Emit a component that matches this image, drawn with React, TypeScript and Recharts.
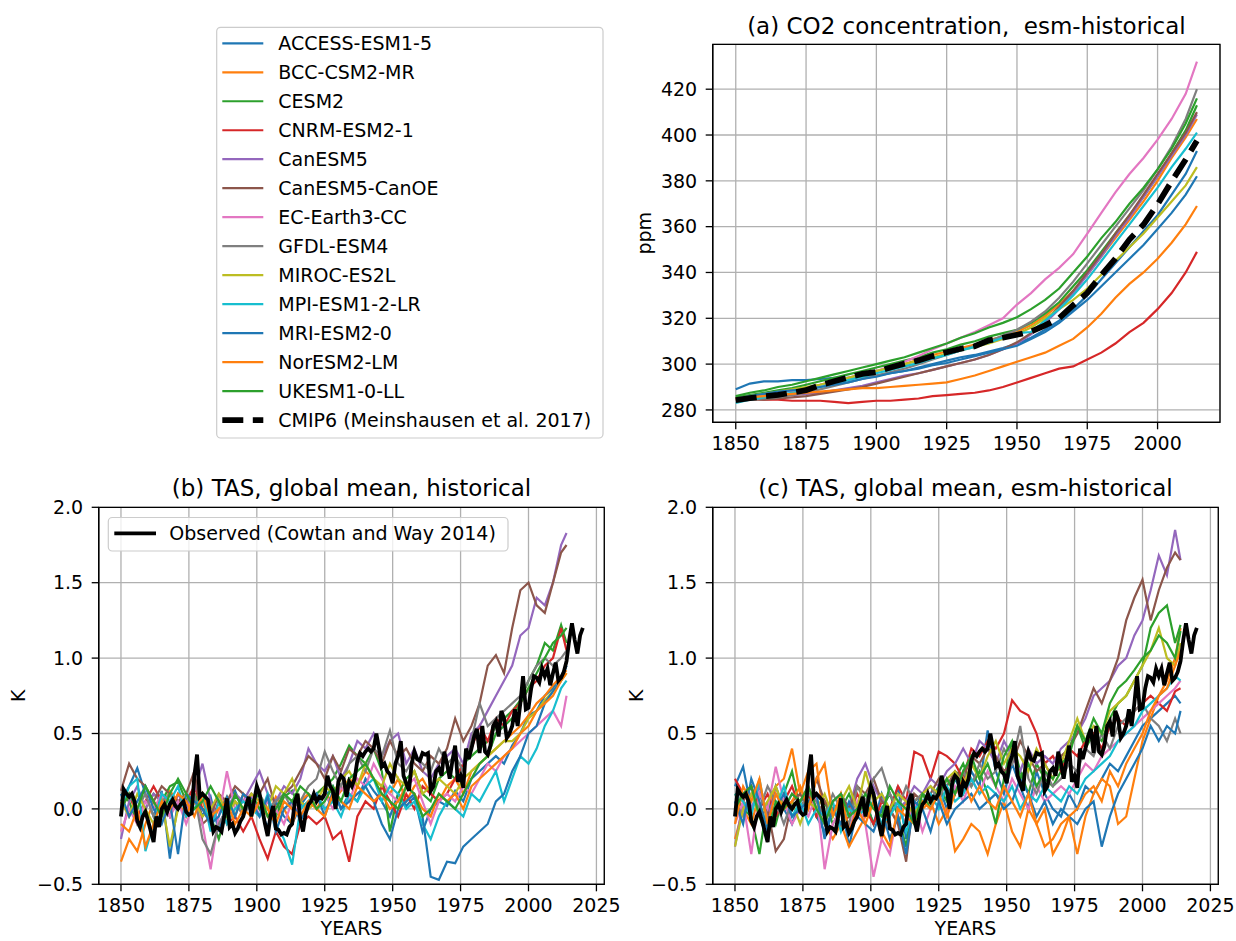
import React from 'react';
import { LineChart, Line, XAxis, YAxis, CartesianGrid, ReferenceArea } from 'recharts';

// ---------- categories ----------
const MODEL_NAMES = [
  'ACCESS-ESM1-5', 'BCC-CSM2-MR', 'CESM2', 'CNRM-ESM2-1', 'CanESM5', 'CanESM5-CanOE',
  'EC-Earth3-CC', 'GFDL-ESM4', 'MIROC-ES2L', 'MPI-ESM1-2-LR', 'MRI-ESM2-0', 'NorESM2-LM', 'UKESM1-0-LL',
];
const MODEL_COLORS = [
  '#1f77b4', '#ff7f0e', '#2ca02c', '#d62728', '#9467bd', '#8c564b',
  '#e377c2', '#7f7f7f', '#bcbd22', '#17becf', '#1f77b4', '#ff7f0e', '#2ca02c',
];
const CMIP6_LABEL = 'CMIP6 (Meinshausen et al. 2017)';
const OBS_LABEL = 'Observed (Cowtan and Way 2014)';

// ---------- (a) CO2 concentration, ppm ----------
const CO2_YEARS = [1850, 1855, 1860, 1865, 1870, 1875, 1880, 1885, 1890, 1895,
  1900, 1905, 1910, 1915, 1920, 1925, 1930, 1935, 1940, 1945,
  1950, 1955, 1960, 1965, 1970, 1975, 1980, 1985, 1990, 1995,
  2000, 2005, 2010, 2014];
const CO2_CMIP6 = [284.3, 285.1, 285.9, 286.6, 287.5, 288.6, 290.8, 292.5, 294.2, 295.7,
  296.6, 298.5, 300.2, 301.6, 303.5, 305.2, 306.7, 307.8, 310.4, 311.5,
  312.8, 314.2, 316.9, 320.0, 325.7, 331.1, 338.8, 346.0, 354.4, 360.9,
  369.7, 379.8, 389.3, 397.5];
const CO2_ACCESS = [289, 291.5, 292.5, 292.5, 293, 293, 293.5, 294, 294, 294.5,
  295, 296, 297, 298.5, 300, 301.5, 303, 304, 305.5, 307,
  309, 311.5, 315, 319, 324, 330, 337, 344, 351, 358,
  365, 374, 383, 393];
const CO2_BCC = [284.5, 285.5, 286.5, 287.5, 288.5, 289.5, 291, 292.5, 294, 295.5,
  297, 298.5, 300, 302, 304, 305.5, 307, 308.5, 310.5, 312,
  314, 317, 321, 326, 332, 339, 347, 355, 363, 371,
  380, 390, 399, 407];
const CO2_CESM2 = [285.5, 286.5, 287.5, 288.5, 289.5, 291, 292.5, 294, 295.5, 297,
  298.5, 300, 301.5, 303, 305, 306.5, 308.5, 310, 312, 313.5,
  315, 318, 322, 327, 334, 341, 349, 357, 365, 373,
  382, 392, 402, 413];
const CO2_CNRM = [285, 285, 284.5, 284.5, 284, 284, 284, 283.5, 283, 283.5,
  284, 284, 284.5, 285, 286, 286.5, 287, 287.5, 288.5, 290,
  292, 294, 296, 298, 299, 302, 305, 309, 314, 318,
  324, 331, 340, 349];
const CO2_CANESM5 = [285, 285, 285.5, 286, 286.5, 287, 287.5, 288.5, 289.5, 290.5,
  292, 293.5, 295, 296, 297.5, 299, 300.5, 302, 304, 306.5,
  309, 313, 318, 324, 331, 339, 347, 356, 364, 373,
  382, 391, 400, 409];
const CO2_CANOE = [285, 284.5, 284.5, 285, 285.5, 286, 287, 288, 289, 290,
  291.5, 293, 294.5, 296, 297.5, 299, 300.5, 302, 304, 306.5,
  309.5, 313.5, 319, 325, 332, 340, 348, 357, 365, 374,
  383, 392, 401, 410];
const CO2_ECEARTH = [284.5, 285.5, 286.5, 287.5, 288.5, 289.5, 291, 292.5, 294, 295.5,
  297, 299, 301, 303.5, 306.5, 309, 311.5, 314, 317, 320,
  326, 331, 337, 342, 348, 357, 366, 375, 383, 390,
  398, 407, 418, 432];
const CO2_GFDL = [284, 284.5, 285, 285.5, 286.5, 287.5, 289, 290.5, 292, 293.5,
  295, 296.5, 298, 300, 302, 304, 306, 308, 310, 312.5,
  315, 318.5, 323, 329, 336, 344, 352, 360, 368, 376,
  385, 395, 407, 420];
const CO2_MIROC = [285, 286, 287, 288, 289, 290, 291, 292.5, 294, 295.5,
  297, 298.5, 300, 301.5, 303, 304.5, 306, 307.5, 309, 311,
  313, 316, 320, 324, 328, 333, 339, 345, 351, 357,
  364, 371, 378, 386];
const CO2_MPI = [283, 284.5, 285.5, 286.5, 287.5, 288.5, 290, 291.5, 293, 294.5,
  296, 297.5, 299, 300.5, 302.5, 304, 306, 307.5, 309.5, 311.5,
  313.5, 314, 319, 324, 330, 337, 345, 353, 361, 369,
  377, 386, 394, 401];
const CO2_MRI = [285, 286, 287, 288, 288.5, 289, 290, 291, 292, 293.5,
  294.5, 296, 297, 298, 299.5, 300.5, 302, 303.5, 305, 306.5,
  308, 311, 314, 318, 323, 328, 334, 340, 346, 352,
  359, 366, 374, 382];
const CO2_NORESM = [285, 285.5, 286, 286.5, 287, 287.5, 288, 288.5, 289, 289.5,
  289.5, 290, 290.5, 291, 291.5, 292, 293.5, 295, 297, 299,
  301, 303, 305, 308, 311, 316, 322, 329, 335, 340,
  346, 353, 361, 369];
const CO2_UKESM = [286, 287.5, 288.5, 290, 291, 292.5, 294, 295.5, 297, 298.5,
  300, 301.5, 303, 305, 307, 309, 311.5, 313.5, 316, 318,
  320.5, 324, 328, 333, 340, 347, 355, 362, 370, 377,
  385, 394, 405, 416];

// ---------- (b), (c) global mean TAS anomaly, K ----------
const TAS_YEARS = [1850, 1853, 1856, 1859, 1862, 1865, 1868, 1871,
  1874, 1877, 1880, 1883, 1886, 1889, 1892, 1895,
  1898, 1901, 1904, 1907, 1910, 1913, 1916, 1919,
  1922, 1925, 1928, 1931, 1934, 1937, 1940, 1943,
  1946, 1949, 1952, 1955, 1958, 1961, 1964, 1967,
  1970, 1973, 1976, 1979, 1982, 1985, 1988, 1991,
  1994, 1997, 2000, 2003, 2006, 2009, 2012, 2014];

// historical
const HIST_ACCESS = [0.05, 0.15, 0.27, 0.10, -0.05, 0.12, -0.33, 0.05,
  0.02, 0.10, -0.05, 0.08, -0.15, 0.05, 0.12, -0.02,
  0.08, 0.00, -0.12, 0.05, -0.05, -0.10, 0.02, 0.10,
  0.05, 0.08, 0.15, 0.00, 0.10, 0.05, 0.20, 0.12,
  0.05, -0.05, 0.10, 0.02, 0.08, -0.15, 0.00, 0.05,
  0.02, 0.12, 0.05, 0.20, 0.25, 0.30, 0.35, 0.30,
  0.42, 0.50, 0.62, 0.65, 0.75, 0.80, 0.88, 0.95];
const HIST_BCC = [-0.35, -0.20, -0.28, -0.10, 0.05, 0.00, 0.12, 0.05,
  -0.05, 0.10, 0.05, -0.10, 0.00, 0.08, -0.05, 0.10,
  0.00, 0.05, -0.05, 0.08, 0.00, -0.10, 0.05, 0.10,
  0.00, 0.10, 0.05, 0.12, 0.20, 0.15, 0.25, 0.20,
  0.15, 0.10, 0.20, 0.05, 0.15, 0.20, 0.10, 0.05,
  0.15, 0.20, 0.10, 0.25, 0.30, 0.35, 0.40, 0.45,
  0.50, 0.55, 0.62, 0.70, 0.75, 0.82, 0.88, 0.92];
const HIST_CESM2 = [0.10, 0.05, -0.10, 0.00, 0.10, 0.05, 0.15, 0.18,
  0.05, 0.10, 0.00, -0.05, -0.20, 0.00, 0.08, 0.05,
  0.10, 0.00, 0.05, -0.05, 0.08, 0.12, 0.00, 0.05,
  0.10, 0.15, 0.20, 0.30, 0.42, 0.35, 0.30, 0.40,
  0.25, -0.15, 0.10, 0.20, 0.25, 0.10, 0.05, 0.20,
  0.25, 0.20, 0.30, 0.35, 0.40, 0.45, 0.55, 0.60,
  0.65, 0.72, 0.85, 0.95, 1.10, 1.05, 1.22, 1.10];
const HIST_CNRM = [0.00, 0.10, -0.05, 0.05, 0.15, 0.05, -0.05, 0.10,
  0.05, 0.15, 0.00, -0.10, 0.05, -0.10, -0.05, -0.15,
  -0.05, -0.20, -0.33, -0.15, -0.25, -0.30, -0.10, -0.05,
  -0.10, -0.05, -0.20, -0.15, -0.35, -0.05, 0.05, 0.00,
  0.15, 0.05, -0.05, 0.10, 0.00, 0.15, 0.10, 0.05,
  0.10, 0.20, 0.30, 0.40, 0.55, 0.45, 0.60, 0.55,
  0.65, 0.70, 0.80, 0.85, 0.95, 1.00, 1.20, 1.05];
const HIST_CANESM5 = [-0.20, 0.05, 0.15, 0.00, 0.10, 0.05, -0.05, 0.10,
  0.00, 0.12, 0.30, 0.05, -0.10, 0.00, 0.10, 0.05,
  0.15, 0.25, 0.10, 0.05, 0.15, 0.10, 0.20, 0.40,
  0.30, 0.25, 0.35, 0.20, 0.30, 0.45, 0.40, 0.50,
  0.35, 0.45, 0.50, 0.30, 0.40, 0.25, 0.20, 0.30,
  0.35, 0.40, 0.30, 0.50, 0.55, 0.65, 0.75, 0.85,
  0.95, 1.15, 1.20, 1.40, 1.35, 1.50, 1.75, 1.83];
const HIST_CANOE = [0.12, 0.30, 0.20, 0.15, 0.05, 0.15, 0.10, 0.05,
  0.10, 0.25, -0.10, -0.05, 0.10, 0.05, 0.15, 0.10,
  0.05, 0.10, 0.20, 0.00, 0.10, 0.15, 0.25, 0.35,
  0.30, 0.20, 0.35, 0.25, 0.40, 0.35, 0.45, 0.40,
  0.30, 0.45, 0.35, 0.40, 0.30, 0.25, 0.35, 0.30,
  0.40, 0.60, 0.45, 0.55, 0.70, 0.95, 1.02, 0.90,
  1.20, 1.45, 1.50, 1.35, 1.30, 1.50, 1.70, 1.75];
const HIST_ECEARTH = [-0.15, 0.00, -0.10, 0.05, 0.00, 0.10, -0.05, 0.05,
  -0.10, 0.05, -0.10, -0.40, -0.05, 0.25, 0.00, 0.05,
  0.10, -0.05, 0.05, 0.00, -0.10, 0.05, -0.05, 0.00,
  0.05, 0.10, 0.00, 0.15, 0.05, 0.20, 0.15, 0.30,
  0.20, 0.10, 0.05, 0.15, 0.20, 0.05, -0.10, 0.05,
  0.10, 0.05, 0.15, 0.10, 0.20, 0.30, 0.25, 0.35,
  0.40, 0.45, 0.50, 0.55, 0.60, 0.65, 0.55, 0.75];
const HIST_GFDL = [0.05, 0.10, 0.00, 0.10, -0.05, 0.05, 0.10, 0.00,
  0.05, 0.10, -0.20, -0.30, -0.10, 0.00, 0.05, -0.05,
  0.05, 0.10, 0.00, 0.05, 0.10, 0.00, 0.05, 0.15,
  0.20, 0.38, 0.25, 0.15, 0.30, 0.35, 0.25, 0.40,
  0.35, 0.52, 0.30, 0.25, 0.35, 0.30, 0.25, 0.40,
  0.30, 0.35, 0.25, 0.45, 0.70, 0.55, 0.60, 0.65,
  0.70, 0.75, 0.85, 0.95, 1.00, 0.95, 1.00, 1.05];
const HIST_MIROC = [0.05, -0.05, 0.10, 0.00, -0.10, 0.05, -0.25, 0.00,
  0.10, 0.05, -0.05, 0.00, 0.10, -0.05, 0.05, 0.00,
  0.10, 0.05, 0.00, 0.15, 0.10, 0.20, 0.05, 0.00,
  0.05, 0.15, 0.10, 0.20, 0.25, 0.15, 0.30, 0.20,
  0.15, 0.30, 0.20, 0.15, 0.25, 0.10, 0.15, 0.20,
  0.15, 0.10, 0.20, 0.25, 0.30, 0.35, 0.40, 0.45,
  0.45, 0.50, 0.60, 0.65, 0.72, 0.78, 0.85, 0.90];
const HIST_MPI = [0.00, 0.15, 0.20, -0.28, -0.10, 0.10, 0.05, 0.15,
  -0.05, 0.00, 0.10, -0.15, 0.05, -0.10, 0.00, 0.05,
  0.00, -0.05, 0.10, -0.10, -0.20, -0.37, 0.00, 0.05,
  0.10, 0.00, 0.05, -0.05, 0.10, 0.05, 0.15, 0.20,
  0.05, 0.15, 0.10, 0.00, 0.05, -0.10, -0.20, -0.05,
  0.05, 0.00, -0.05, 0.10, 0.05, 0.15, 0.25, 0.05,
  0.20, 0.35, 0.30, 0.40, 0.55, 0.65, 0.80, 0.85];
const HIST_MRI = [0.10, -0.05, 0.05, 0.15, 0.00, -0.10, 0.05, -0.30,
  0.10, 0.05, 0.00, -0.10, -0.05, 0.08, -0.05, 0.10,
  0.05, -0.05, 0.08, -0.15, 0.00, 0.05, -0.08, 0.02,
  0.10, -0.05, 0.12, 0.00, 0.05, 0.10, 0.15, 0.05,
  -0.10, -0.20, 0.00, 0.05, 0.10, -0.05, -0.45, -0.47,
  -0.35, -0.36, -0.25, -0.20, -0.15, -0.10, 0.05, 0.10,
  0.25, 0.35, 0.50, 0.55, 0.70, 0.78, 0.85, 0.95];
const HIST_NORESM = [-0.10, -0.15, 0.00, -0.25, -0.10, 0.05, 0.00, 0.10,
  0.05, -0.05, 0.10, -0.05, 0.00, 0.05, -0.10, 0.00,
  -0.05, 0.05, 0.00, -0.10, 0.05, 0.00, -0.05, 0.05,
  0.00, -0.05, 0.10, 0.05, 0.00, 0.15, 0.10, 0.05,
  0.10, 0.00, 0.05, 0.15, 0.10, 0.00, -0.05, 0.10,
  0.05, 0.10, 0.00, 0.15, 0.20, 0.25, 0.30, 0.35,
  0.40, 0.50, 0.55, 0.65, 0.70, 0.75, 0.85, 0.90];
const HIST_UKESM = [0.00, 0.10, 0.00, 0.15, 0.05, -0.05, 0.10, 0.20,
  0.10, 0.00, 0.05, 0.15, 0.05, -0.05, 0.10, 0.00,
  0.05, 0.10, -0.05, 0.00, 0.10, 0.05, 0.15, 0.10,
  0.00, 0.05, 0.15, 0.05, 0.20, 0.25, 0.30, 0.20,
  0.10, 0.05, 0.00, 0.15, 0.10, -0.05, 0.00, 0.10,
  0.05, 0.00, 0.10, 0.20, 0.30, 0.35, 0.50, 0.55,
  0.60, 0.70, 0.80, 0.90, 1.00, 1.10, 1.15, 1.20];

// esm-historical
const ESM_ACCESS = [0.15, 0.28, 0.00, 0.10, -0.05, 0.15, 0.00, -0.10,
  0.05, 0.10, -0.05, -0.15, 0.00, 0.05, -0.25, 0.00,
  0.05, -0.10, 0.10, -0.05, 0.15, -0.20, 0.00, 0.10,
  0.05, 0.15, 0.00, 0.20, 0.10, 0.25, 0.15, 0.52,
  0.25, 0.10, 0.30, 0.15, 0.00, 0.25, 0.10, 0.00,
  -0.05, 0.10, 0.00, 0.15, 0.10, 0.20, 0.30, 0.25,
  0.35, 0.45, 0.55, 0.60, 0.65, 0.70, 0.75, 0.70];
const ESM_BCC = [-0.20, 0.00, -0.10, 0.10, 0.00, 0.15, 0.20, 0.40,
  0.10, 0.25, 0.30, -0.10, -0.20, -0.10, -0.25, -0.15,
  -0.05, 0.05, -0.20, 0.00, -0.10, 0.05, -0.05, 0.00,
  0.05, -0.10, 0.00, -0.28, -0.20, -0.10, -0.15, -0.30,
  -0.10, 0.05, -0.15, -0.25, 0.00, -0.10, -0.25, -0.20,
  -0.10, -0.05, -0.30, -0.05, 0.10, 0.20, 0.15, -0.10,
  -0.05, 0.20, 0.45, 0.60, 0.75, 0.85, 1.00, 1.20];
const ESM_CESM2 = [0.10, 0.00, -0.05, -0.30, 0.05, -0.10, 0.10, 0.25,
  0.00, 0.10, -0.05, 0.05, -0.10, 0.00, 0.10, -0.05,
  0.05, -0.10, 0.00, 0.10, -0.05, -0.25, 0.05, 0.10,
  0.00, 0.15, 0.05, 0.20, 0.30, 0.15, 0.25, 0.10,
  -0.10, 0.20, 0.45, 0.25, 0.10, 0.30, 0.20, 0.15,
  0.25, 0.40, 0.55, 0.40, 0.50, 0.45, 0.60, 0.70,
  0.75, 0.85, 0.95, 1.20, 1.30, 1.35, 1.10, 1.22];
const ESM_CNRM = [0.20, 0.10, 0.15, 0.00, 0.10, -0.05, 0.05, 0.15,
  0.00, 0.10, -0.05, 0.05, 0.00, -0.10, -0.05, 0.10,
  0.00, -0.10, 0.05, 0.00, 0.15, 0.05, 0.38, 0.35,
  0.20, 0.38, 0.35, 0.30, 0.20, 0.40, 0.35, 0.45,
  0.40, 0.50, 0.72, 0.65, 0.62, 0.50, 0.30, 0.35,
  0.25, 0.40, 0.35, 0.45, 0.50, 0.40, 0.55, 0.60,
  0.55, 0.65, 0.70, 0.75, 0.70, 0.65, 0.78, 0.80];
const ESM_CANESM5 = [-0.25, 0.05, 0.00, 0.15, -0.05, 0.10, 0.00, 0.10,
  0.05, 0.15, 0.00, -0.10, 0.05, 0.10, 0.00, 0.20,
  0.30, 0.15, 0.05, 0.10, 0.00, 0.05, 0.15, 0.10,
  0.20, 0.15, 0.25, 0.30, 0.40, 0.30, 0.45, 0.40,
  0.30, 0.45, 0.35, 0.25, 0.40, 0.30, 0.35, 0.30,
  0.40, 0.45, 0.50, 0.60, 0.75, 0.80, 0.85, 0.95,
  1.00, 1.15, 1.25, 1.45, 1.68, 1.55, 1.85, 1.65];
const ESM_CANOE = [0.10, 0.05, 0.15, -0.05, 0.00, -0.28, -0.20, 0.05,
  0.10, 0.00, 0.20, 0.05, -0.05, 0.10, 0.00, 0.15,
  0.10, 0.20, 0.05, 0.00, -0.10, -0.35, 0.10, 0.05,
  0.10, 0.20, 0.15, 0.25, 0.20, 0.35, 0.30, 0.40,
  0.35, 0.25, 0.30, 0.45, 0.35, 0.25, 0.30, 0.20,
  0.35, 0.40, 0.50, 0.65, 0.80, 0.70, 0.85, 1.00,
  1.25, 1.40, 1.52, 1.25, 1.45, 1.60, 1.70, 1.65];
const ESM_ECEARTH = [-0.10, 0.05, -0.30, 0.10, 0.00, 0.28, 0.05, -0.10,
  0.00, -0.05, 0.10, -0.40, -0.10, 0.00, -0.15, 0.05,
  -0.10, -0.45, -0.20, -0.30, 0.00, -0.10, 0.05, -0.15,
  0.00, 0.10, -0.05, 0.15, 0.05, 0.20, 0.10, 0.25,
  0.15, 0.05, 0.20, 0.10, 0.00, 0.15, 0.05, 0.10,
  0.15, 0.10, 0.20, 0.30, 0.25, 0.35, 0.40, 0.45,
  0.50, 0.55, 0.60, 0.65, 0.70, 0.75, 0.80, 0.85];
const ESM_GFDL = [0.05, -0.05, 0.10, 0.00, 0.15, 0.05, -0.10, 0.05,
  0.00, 0.10, 0.05, -0.05, 0.10, 0.00, -0.10, 0.15,
  0.05, 0.20, 0.27, 0.10, 0.00, 0.15, 0.05, 0.10,
  0.15, 0.05, 0.20, 0.10, 0.25, 0.15, 0.30, 0.20,
  0.25, 0.40, 0.30, 0.55, 0.20, 0.10, 0.25, 0.15,
  0.20, 0.30, 0.25, 0.40, 0.35, 0.50, 0.40, 0.55,
  0.60, 0.65, 0.70, 0.60, 0.55, 0.45, 0.60, 0.50];
const ESM_MIROC = [-0.25, 0.00, 0.10, -0.05, 0.05, 0.15, 0.00, 0.05,
  -0.10, 0.05, 0.00, 0.10, -0.05, 0.05, 0.15, 0.00,
  0.25, 0.05, 0.10, 0.00, 0.10, 0.05, -0.05, 0.10,
  0.15, 0.10, 0.20, 0.25, 0.15, 0.30, 0.20, 0.35,
  0.45, 0.30, 0.40, 0.35, 0.25, 0.40, 0.30, 0.20,
  0.30, 0.45, 0.60, 0.45, 0.55, 0.50, 0.65, 0.70,
  0.75, 0.85, 0.95, 1.05, 1.20, 1.00, 0.95, 1.10];
const ESM_MPI = [0.10, 0.05, -0.05, 0.20, -0.10, 0.00, 0.15, -0.05,
  0.05, -0.10, 0.00, -0.05, 0.05, -0.15, 0.00, -0.05,
  0.00, 0.05, -0.10, -0.05, 0.05, -0.15, 0.00, 0.05,
  0.10, 0.00, 0.15, 0.05, 0.10, 0.20, 0.10, 0.15,
  0.10, 0.05, 0.15, 0.00, 0.10, 0.05, 0.15, 0.10,
  0.05, 0.15, 0.10, 0.20, 0.25, 0.30, 0.35, 0.45,
  0.50, 0.55, 0.65, 0.70, 0.75, 0.80, 0.88, 0.85];
const ESM_MRI = [0.05, -0.10, 0.20, 0.05, -0.15, 0.00, 0.10, -0.05,
  0.00, 0.05, 0.10, -0.20, 0.00, -0.10, 0.05, -0.05,
  -0.10, -0.15, 0.00, -0.20, -0.05, -0.30, 0.05, 0.00,
  -0.15, 0.05, -0.10, 0.00, 0.05, 0.10, 0.00, 0.05,
  0.10, 0.00, 0.05, 0.20, 0.10, -0.05, 0.05, -0.10,
  0.00, -0.05, -0.10, 0.00, 0.05, -0.25, -0.05, 0.10,
  0.20, 0.30, 0.40, 0.55, 0.45, 0.55, 0.50, 0.65];
const ESM_NORESM = [-0.10, 0.15, 0.05, 0.20, -0.10, 0.10, 0.00, 0.05,
  0.15, 0.00, 0.20, 0.30, -0.05, 0.10, -0.15, 0.00,
  -0.10, 0.05, -0.15, -0.25, 0.00, -0.05, -0.10, 0.05,
  0.00, 0.10, -0.05, 0.10, 0.20, 0.05, 0.15, 0.05,
  0.00, 0.15, 0.05, -0.05, 0.10, -0.10, 0.00, -0.30,
  -0.20, -0.05, 0.00, 0.10, 0.15, 0.05, 0.25, 0.15,
  0.30, 0.40, 0.50, 0.65, 0.75, 0.80, 0.95, 1.05];
const ESM_UKESM = [0.00, 0.10, 0.15, -0.05, -0.20, 0.05, 0.00, 0.10,
  0.05, 0.15, 0.00, -0.10, 0.05, 0.10, -0.05, 0.00,
  0.10, 0.00, -0.05, 0.15, 0.05, 0.00, -0.10, 0.10,
  0.05, 0.10, 0.20, 0.10, 0.25, 0.35, 0.20, 0.30,
  0.15, 0.35, 0.45, 0.20, 0.30, 0.15, 0.25, 0.20,
  0.30, 0.35, 0.55, 0.45, 0.60, 0.50, 0.70, 0.80,
  0.85, 0.92, 1.00, 1.05, 1.15, 1.10, 1.00, 1.18];

// observed, annual 1850-2020
const OBS_START = 1850;
const OBS_TAS = [
  -0.05, 0.13, 0.10, 0.08, 0.10, 0.05, -0.08, -0.12, -0.05, -0.02,
  -0.08, -0.15, -0.22, -0.05, -0.12, 0.00, 0.03, -0.02, 0.03, 0.06,
  0.02, 0.00, 0.03, 0.05, -0.02, -0.04, -0.03, 0.22, 0.36, 0.08,
  0.10, 0.08, 0.06, -0.05, -0.15, -0.12, -0.13, -0.15, -0.05, 0.07,
  -0.12, -0.10, -0.16, -0.13, -0.08, -0.05, 0.02, 0.08, -0.05, 0.05,
  0.15, 0.10, 0.00, -0.10, -0.18, -0.05, 0.02, -0.13, -0.14, -0.17,
  -0.16, -0.17, -0.12, -0.10, 0.05, 0.10, -0.07, -0.15, -0.03, 0.03,
  0.05, 0.10, 0.05, 0.08, 0.07, 0.10, 0.22, 0.15, 0.12, 0.00,
  0.18, 0.22, 0.20, 0.08, 0.18, 0.15, 0.20, 0.32, 0.37, 0.35,
  0.38, 0.40, 0.38, 0.40, 0.50, 0.40, 0.28, 0.30, 0.25, 0.23,
  0.17, 0.30, 0.35, 0.45, 0.22, 0.17, 0.12, 0.30, 0.38, 0.33,
  0.32, 0.37, 0.36, 0.37, 0.12, 0.15, 0.25, 0.27, 0.22, 0.38,
  0.30, 0.20, 0.32, 0.42, 0.18, 0.22, 0.14, 0.40, 0.33, 0.40,
  0.48, 0.53, 0.37, 0.55, 0.38, 0.36, 0.42, 0.55, 0.58, 0.48,
  0.65, 0.60, 0.47, 0.50, 0.55, 0.66, 0.55, 0.70, 0.88, 0.66,
  0.67, 0.80, 0.88, 0.87, 0.84, 0.93, 0.88, 0.93, 0.82, 0.90,
  0.97, 0.85, 0.87, 0.91, 0.98, 1.12, 1.23, 1.12, 1.03, 1.15,
  1.20,
];

// ---------- tick labels ----------
const CO2_X_TICKS = [1850, 1875, 1900, 1925, 1950, 1975, 2000];
const CO2_Y_TICKS = [280, 300, 320, 340, 360, 380, 400, 420];
const TAS_X_TICKS = [1850, 1875, 1900, 1925, 1950, 1975, 2000, 2025];
const TAS_Y_TICKS = [-0.5, 0, 0.5, 1.0, 1.5, 2.0];

const CO2_SERIES = [CO2_ACCESS, CO2_BCC, CO2_CESM2, CO2_CNRM, CO2_CANESM5, CO2_CANOE,
  CO2_ECEARTH, CO2_GFDL, CO2_MIROC, CO2_MPI, CO2_MRI, CO2_NORESM, CO2_UKESM];
const HIST_SERIES = [HIST_ACCESS, HIST_BCC, HIST_CESM2, HIST_CNRM, HIST_CANESM5, HIST_CANOE,
  HIST_ECEARTH, HIST_GFDL, HIST_MIROC, HIST_MPI, HIST_MRI, HIST_NORESM, HIST_UKESM];
const ESM_SERIES = [ESM_ACCESS, ESM_BCC, ESM_CESM2, ESM_CNRM, ESM_CANESM5, ESM_CANOE,
  ESM_ECEARTH, ESM_GFDL, ESM_MIROC, ESM_MPI, ESM_MRI, ESM_NORESM, ESM_UKESM];

// ---------- tables for recharts ----------
const co2Rows = CO2_YEARS.map((year, i) => {
  const row: Record<string, number> = { year, cmip6: CO2_CMIP6[i] };
  CO2_SERIES.forEach((s, k) => { row['m' + k] = s[i]; });
  return row;
});

function tasRows(series: number[][]) {
  return OBS_TAS.map((v, i) => {
    const year = OBS_START + i;
    const row: Record<string, number> = { year, obs: v };
    const j = TAS_YEARS.indexOf(year);
    if (j >= 0) series.forEach((s, k) => { row['m' + k] = s[j]; });
    return row;
  });
}
const histRows = tasRows(HIST_SERIES);
const esmRows = tasRows(ESM_SERIES);

// ---------- styling ----------
const FONT = '"DejaVu Sans", Verdana, sans-serif';
const TICK = { fill: '#000', fontSize: 19, fontFamily: FONT };
const AXIS_LINE = { stroke: '#000', strokeWidth: 1.3 };
const GRID = '#b0b0b0';
const MODEL_W = 2.2;

const fmtK = (v: number) => (v < 0 ? '\u2212' + Math.abs(v).toFixed(1) : v.toFixed(1));

type PanelProps = {
  left: number; top: number; width: number; height: number;
  margin: { top: number; right: number; bottom: number; left: number };
  yWidth: number;
  xDomain: [number, number]; yDomain: [number, number];
  xTicks: number[]; yTicks: number[];
  data: Record<string, number>[];
  yFormat?: (v: number) => string;
  children: React.ReactNode;
};

function Panel(p: PanelProps) {
  return (
    <div style={{ position: 'absolute', left: p.left, top: p.top }}>
      <LineChart width={p.width} height={p.height} data={p.data} margin={p.margin}>
        <CartesianGrid stroke={GRID} strokeWidth={1.3} />
        <XAxis
          type="number" dataKey="year" domain={p.xDomain} ticks={p.xTicks} allowDataOverflow
          interval={0} height={40} tickSize={7} tickMargin={7}
          axisLine={AXIS_LINE} tickLine={AXIS_LINE} tick={TICK}
        />
        <YAxis
          type="number" domain={p.yDomain} ticks={p.yTicks} allowDataOverflow
          interval={0} width={p.yWidth} tickSize={7} tickMargin={8.5}
          axisLine={AXIS_LINE} tickLine={AXIS_LINE} tick={TICK} tickFormatter={p.yFormat}
        />
        {p.children}
        <ReferenceArea
          x1={p.xDomain[0]} x2={p.xDomain[1]} y1={p.yDomain[0]} y2={p.yDomain[1]}
          fill="none" fillOpacity={0} stroke="#000" strokeWidth={1.3} ifOverflow="visible"
        />
      </LineChart>
    </div>
  );
}

function modelLines() {
  return MODEL_NAMES.map((name, k) => (
    <Line
      key={name} name={name} dataKey={'m' + k} type="linear" stroke={MODEL_COLORS[k]}
      strokeWidth={MODEL_W} dot={false} connectNulls isAnimationActive={false}
    />
  ));
}

const TAS_X_DOMAIN: [number, number] = [1841.8, 2027.9];
const TAS_Y_DOMAIN: [number, number] = [-0.5, 2.0];

export default function App() {
  const legendRow0 = 43.3;
  const legendStep = 28.98;
  return (
    <div style={{ position: 'absolute', left: 0, top: 0, width: 1236, height: 941, background: '#fff', fontFamily: FONT }}>
      {/* (a) CO2 concentration */}
      <Panel
        left={600} top={0} width={636} height={470}
        margin={{ top: 44.3, right: 16, bottom: 7.7, left: 0 }} yWidth={112.7}
        xDomain={[1841.8, 2022.2]} yDomain={[274.6, 439.6]}
        xTicks={CO2_X_TICKS} yTicks={CO2_Y_TICKS} data={co2Rows}
      >
        {modelLines()}
        <Line
          name={CMIP6_LABEL} dataKey="cmip6" type="linear" stroke="#000" strokeWidth={5.8}
          strokeDasharray="21 9.5" dot={false} isAnimationActive={false}
        />
      </Panel>

      {/* (b) historical TAS */}
      <Panel
        left={0} top={460} width={620} height={481}
        margin={{ top: 47.3, right: 15.7, bottom: 16.7, left: 0 }} yWidth={98.7}
        xDomain={TAS_X_DOMAIN} yDomain={TAS_Y_DOMAIN}
        xTicks={TAS_X_TICKS} yTicks={TAS_Y_TICKS} data={histRows} yFormat={fmtK}
      >
        {modelLines()}
        <Line name={OBS_LABEL} dataKey="obs" type="linear" stroke="#000" strokeWidth={3.8} dot={false} isAnimationActive={false} />
      </Panel>

      {/* (c) esm-historical TAS */}
      <Panel
        left={620} top={460} width={616} height={481}
        margin={{ top: 47.3, right: 17.7, bottom: 16.7, left: 0 }} yWidth={92.7}
        xDomain={TAS_X_DOMAIN} yDomain={TAS_Y_DOMAIN}
        xTicks={TAS_X_TICKS} yTicks={TAS_Y_TICKS} data={esmRows} yFormat={fmtK}
      >
        {modelLines()}
        <Line name={OBS_LABEL} dataKey="obs" type="linear" stroke="#000" strokeWidth={3.8} dot={false} isAnimationActive={false} />
      </Panel>

      {/* titles, axis labels and legends */}
      <svg width={1236} height={941} style={{ position: 'absolute', left: 0, top: 0, pointerEvents: 'none' }}
        fontFamily={FONT}>
        <text x={966.4} y={33.5} fontSize={23} textAnchor="middle" fill="#000">{'(a) CO2 concentration,\u00a0\u00a0esm-historical'}</text>
        <text x={351.5} y={495.5} fontSize={23} textAnchor="middle" fill="#000">(b) TAS, global mean, historical</text>
        <text x={965.5} y={495.5} fontSize={23} textAnchor="middle" fill="#000">(c) TAS, global mean, esm-historical</text>

        <text transform="translate(650.5,233.3) rotate(-90)" fontSize={19} textAnchor="middle" fill="#000">ppm</text>
        <text transform="translate(24.8,695.8) rotate(-90)" fontSize={19} textAnchor="middle" fill="#000">K</text>
        <text transform="translate(642.8,695.8) rotate(-90)" fontSize={19} textAnchor="middle" fill="#000">K</text>
        <text x={351.5} y={935} fontSize={19} textAnchor="middle" fill="#000">YEARS</text>
        <text x={965.5} y={935} fontSize={19} textAnchor="middle" fill="#000">YEARS</text>

        {/* model legend */}
        <rect x={216.7} y={27.3} width={386.3} height={410.7} rx={4} fill="#fff" fillOpacity={0.8} stroke="#cccccc" strokeWidth={1.2} />
        {MODEL_NAMES.map((name, k) => {
          const y = legendRow0 + legendStep * k;
          return (
            <g key={name}>
              <line x1={222.3} x2={263.3} y1={y} y2={y} stroke={MODEL_COLORS[k]} strokeWidth={MODEL_W} />
              <text x={278.3} y={y + 7} fontSize={19} fill="#000">{name}</text>
            </g>
          );
        })}
        <line x1={222.3} x2={263.3} y1={legendRow0 + legendStep * 13} y2={legendRow0 + legendStep * 13}
          stroke="#000" strokeWidth={5.8} strokeDasharray="21 9.5" />
        <text x={278.3} y={legendRow0 + legendStep * 13 + 7} fontSize={19} fill="#000">{CMIP6_LABEL}</text>

        {/* observed legend in (b) */}
        <rect x={108.3} y={517.5} width={399.7} height={33.5} rx={4} fill="#fff" fillOpacity={0.8} stroke="#cccccc" strokeWidth={1.2} />
        <line x1={114.3} x2={156} y1={533.3} y2={533.3} stroke="#000" strokeWidth={3.8} />
        <text x={169.3} y={540.3} fontSize={19} fill="#000">{OBS_LABEL}</text>
      </svg>
    </div>
  );
}
